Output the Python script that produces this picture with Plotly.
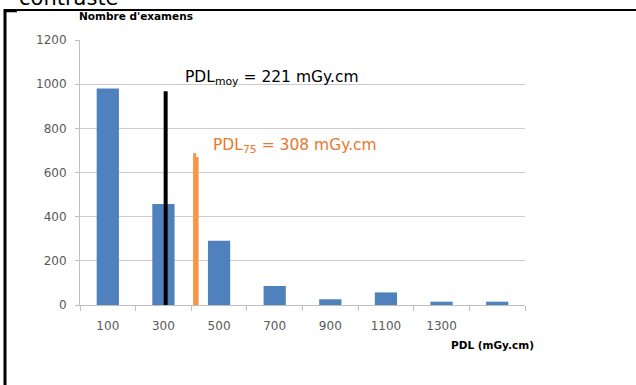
import plotly.graph_objects as go

# ---- data ----
categories = [100, 300, 500, 700, 900, 1100, 1300, 1500]
tick_labels = ["100", "300", "500", "700", "900", "1100", "1300", ""]
counts = [980, 457, 291, 86, 26, 57, 15, 15]

mean_line_x = [308, 308]
mean_line_y = [0, 968]
p75_line_left_x = [412, 412]
p75_line_left_y = [0, 688]
p75_line_right_x = [421, 421]
p75_line_right_y = [0, 670]

y_ticks = [0, 200, 400, 600, 800, 1000, 1200]
boundaries = [0, 200, 400, 600, 800, 1000, 1200, 1400, 1600]

mean_label = "PDL<sub>moy</sub> = 221 mGy.cm"
p75_label = "PDL<sub>75</sub> = 308 mGy.cm"

# ---- layout geometry (pixels) ----
W, H = 636, 385
L, R, T, B = 80, 111, 40, 80
PW, PH = W - L - R, H - T - B


def px(xp):
    return (xp - L) / PW


def py(yp):
    return (H - B - yp) / PH


fig = go.Figure()
fig.add_trace(go.Bar(x=categories, y=counts, width=80,
                     marker=dict(color="#4F81BD", line=dict(width=0)),
                     hoverinfo="skip"))
fig.add_trace(go.Scatter(x=mean_line_x, y=mean_line_y, mode="lines",
                         line=dict(color="#000000", width=4), hoverinfo="skip"))
fig.add_trace(go.Scatter(x=p75_line_left_x, y=p75_line_left_y, mode="lines",
                         line=dict(color="#F79646", width=3), hoverinfo="skip"))
fig.add_trace(go.Scatter(x=p75_line_right_x, y=p75_line_right_y, mode="lines",
                         line=dict(color="#F79646", width=3), hoverinfo="skip"))

tick_font = dict(family="DejaVu Sans", size=12, color="#595959")

fig.update_layout(
    width=W, height=H,
    margin=dict(l=L, r=R, t=T, b=B, pad=0),
    paper_bgcolor="white", plot_bgcolor="white",
    showlegend=False, hovermode=False,
    xaxis=dict(range=[0, 1600], tickmode="array", tickvals=categories,
               ticktext=tick_labels, ticks="", showgrid=False, zeroline=False,
               showline=True, linecolor="#BFBFBF", linewidth=1,
               tickfont=tick_font, ticklabelstandoff=10,
               minor=dict(tickmode="array", tickvals=boundaries, ticks="outside",
                          ticklen=5, tickcolor="#BFBFBF", showgrid=False)),
    yaxis=dict(range=[0, 1200], tickmode="array", tickvals=y_ticks,
               ticks="outside", ticklen=4, tickcolor="#BFBFBF",
               showgrid=True, gridcolor="#CCCCCC", gridwidth=1,
               zeroline=False, showline=True, linecolor="#BFBFBF", linewidth=1,
               tickfont=tick_font, ticklabelstandoff=6),
)

annotations = [
    dict(text="contraste", x=px(17), y=py(-2), xanchor="left", yanchor="middle",
         font=dict(family="DejaVu Sans", size=21, color="#000000")),
    dict(text="<b>Nombre d'examens</b>", x=px(77), y=py(16), xanchor="left", yanchor="middle",
         font=dict(family="DejaVu Sans", size=10.5, color="#000000")),
    dict(text="<b>PDL (mGy.cm)</b>", x=px(536), y=py(345), xanchor="right", yanchor="middle",
         font=dict(family="DejaVu Sans", size=10.5, color="#000000")),
    dict(text=mean_label, x=px(183), y=py(78), xanchor="left", yanchor="middle",
         font=dict(family="DejaVu Sans", size=15.5, color="#000000")),
    dict(text=p75_label, x=px(211), y=py(146), xanchor="left", yanchor="middle",
         font=dict(family="DejaVu Sans", size=15.5, color="#E8782A")),
]
for a in annotations:
    a.update(xref="paper", yref="paper", showarrow=False)
fig.update_layout(annotations=annotations)

shapes = [
    dict(type="line", x0=px(5), x1=px(5), y0=py(9), y1=py(390),
         line=dict(color="#000000", width=3)),
    dict(type="line", x0=px(4), x1=px(640), y0=py(10), y1=py(10),
         line=dict(color="#000000", width=2)),
    dict(type="line", x0=px(5), x1=px(17), y0=py(11.5), y1=py(11.5),
         line=dict(color="#000000", width=1.5)),
]
for s in shapes:
    s.update(xref="paper", yref="paper", layer="above")
fig.update_layout(shapes=shapes)

fig.write_html("out.html")
